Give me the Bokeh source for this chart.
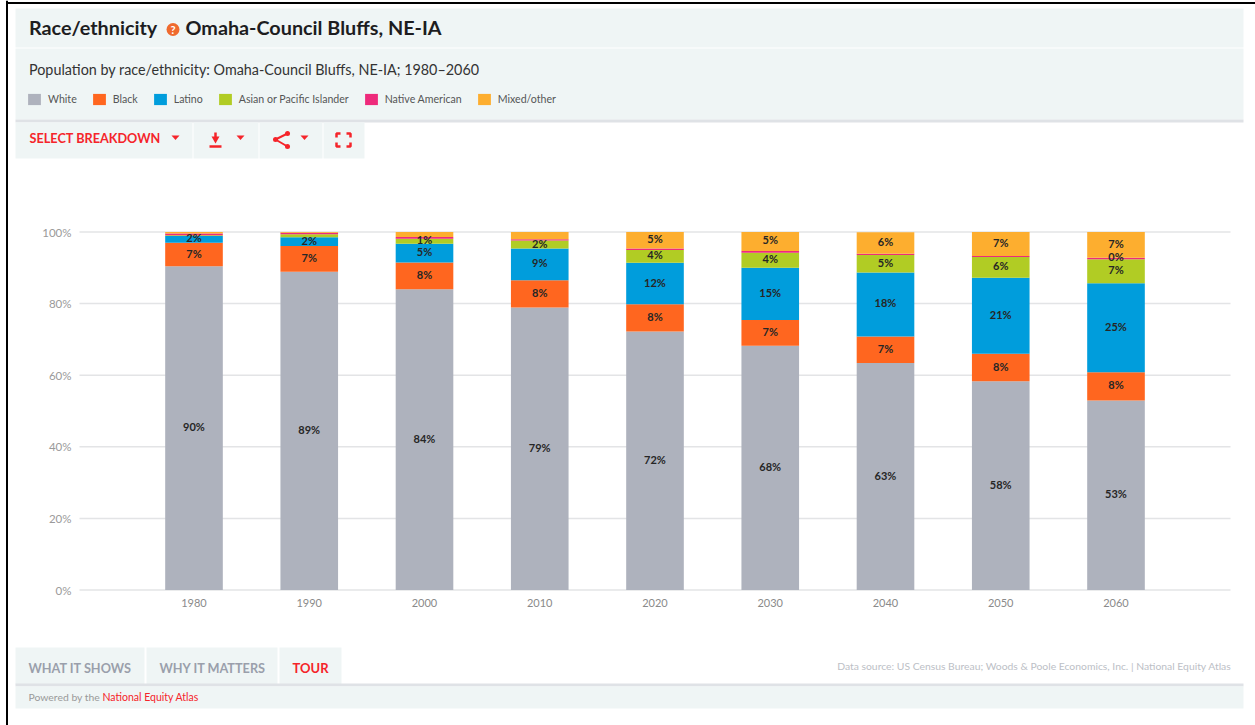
from bokeh.core.properties import value
from bokeh.embed import file_html
from bokeh.models import (ColumnDataSource, FixedTicker, Legend, LegendItem, LinearAxis,
                          PrintfTickFormatter, Range1d)
from bokeh.plotting import figure
from bokeh.resources import INLINE
import numpy as np

years = [1980, 1990, 2000, 2010, 2020, 2030, 2040, 2050, 2060]
white = [90.4, 88.9, 84.0, 78.9, 72.2, 68.2, 63.4, 58.3, 52.9]
black = [6.6, 7.2, 7.5, 7.6, 7.6, 7.2, 7.4, 7.7, 7.9]
latino = [1.9, 2.4, 5.2, 8.9, 11.6, 14.6, 17.9, 21.2, 24.9]
asian = [0.2, 0.9, 1.4, 2.2, 3.6, 4.2, 4.9, 5.8, 6.7]
native = [0.5, 0.4, 0.5, 0.4, 0.4, 0.5, 0.3, 0.3, 0.4]
mixed = [0.4, 0.2, 1.4, 2.0, 4.6, 5.3, 6.0, 6.7, 7.2]

series_names = ["White", "Black", "Latino", "Asian or Pacific Islander", "Native American", "Mixed/other"]
series_values = [white, black, latino, asian, native, mixed]
series_colors = ["#aeb2bd", "#ff661f", "#009ddc", "#b1cc24", "#ee2a7b", "#fdae2f"]
# Decades whose segment carries a value label, per series
labelled_years = [
    years,
    years,
    years,
    [2000, 2010, 2020, 2030, 2040, 2050, 2060],
    [2060],
    [2020, 2030, 2040, 2050, 2060],
]
y_ticks = [0, 20, 40, 60, 80, 100]

RED = "#f5242a"
PANEL = "#eff5f5"
SHADE = "#dfe2e6"
FONT = "Lato"

# The frame fills the page: data ranges place the plot area, a second pair of
# ranges in page pixels holds the surrounding panels.
PX_PER_YEAR = 11.525
PX_PER_PCT = 3.58
x0_px, y0_px = 193.5, 589.5
x_year = lambda px: 1980 + (px - x0_px) / PX_PER_YEAR
y_pct = lambda py: (y0_px - py) / PX_PER_PCT

p = figure(width=1255, height=725, output_backend="svg", toolbar_location=None,
           x_range=Range1d(x_year(0), x_year(1255)), y_range=Range1d(y_pct(725), y_pct(0)),
           x_axis_location=None, y_axis_location=None, min_border=0, outline_line_color=None)
p.grid.visible = False
p.extra_x_ranges["page_x"] = Range1d(0, 1255)
p.extra_y_ranges["page_y"] = Range1d(725, 0)
page = dict(x_range_name="page_x", y_range_name="page_y")


def panel(left, right, top, bottom, color):
    p.quad(left=left, right=right, top=top, bottom=bottom, fill_color=color,
           line_color=None, level="underlay", **page)


def label(x, y, text, size, color, weight="normal", align="left"):
    p.text(x=[x], y=[y], text=[text], text_font=value(FONT), text_font_size=f"{size}px",
           text_color=color, text_font_style=weight, text_align=align,
           text_baseline="middle", **page)


# Page edge rules
panel(5.5, 7.5, 0, 725, "#000000")
panel(5.5, 1255, 1.5, 3.5, "#000000")

# Header, button row and footer panels
panel(15, 1243, 8, 47, PANEL)
panel(15, 1243, 48, 119, PANEL)
panel(15, 1243, 119, 122, SHADE)
for left, right in [(15, 192), (193, 258), (259, 322), (323, 364)]:
    panel(left, right, 122, 158, PANEL)
for left, right in [(15, 144), (146, 277), (279, 341)]:
    panel(left, right, 647, 684, PANEL)
panel(15, 1243, 683, 686, SHADE)
panel(15, 1243, 686, 708, PANEL)

# Titles
label(28.5, 26, "Race/ethnicity", 19.8, "#1d1d1f", "bold")
label(185, 26, "Omaha-Council Bluffs, NE-IA", 19.8, "#1d1d1f", "bold")
p.scatter(x=[172.5], y=[29], size=13, marker="circle", fill_color="#ef6a2e", line_color=None, **page)
label(172.5, 29, "?", 11, "#ffffff", "bold", "center")
label(28.5, 68.5, "Population by race/ethnicity: Omaha-Council Bluffs, NE-IA; 1980–2060", 14.35, "#333333")

# Toolbar row: menu label, carets and icons
label(29, 137.5, "SELECT BREAKDOWN", 12.7, RED, "bold")
caret_x = [175, 240, 304]
p.patches(xs=[[c - 4, c + 4, c] for c in caret_x], ys=[[135, 135, 139.5]] * 3,
          fill_color=RED, line_color=None, **page)
p.patch(x=[211, 219, 215], y=[136, 136, 143], fill_color=RED, line_color=None, **page)
p.segment(x0=[215, 209], y0=[132, 146], x1=[215, 221], y1=[138, 146], line_color=RED, line_width=2.5, **page)
p.multi_line(xs=[[287, 275, 287]], ys=[[133, 139, 146]], line_color=RED, line_width=2, **page)
p.scatter(x=[287, 275, 287], y=[133, 139, 146], size=5, marker="circle", fill_color=RED, line_color=None, **page)
p.multi_line(
    xs=[[336, 336, 340], [346, 350, 350], [336, 336, 340], [346, 350, 350]],
    ys=[[137, 133, 133], [133, 133, 137], [142, 146, 146], [146, 146, 142]],
    line_color=RED, line_width=2.5, **page)

# Footer
label(28, 667.5, "WHAT IT SHOWS", 12.7, "#9a9fab", "bold")
label(159, 667.5, "WHY IT MATTERS", 12.7, "#9a9fab", "bold")
label(292, 667.5, "TOUR", 13, RED, "bold")
label(28, 696.5, "Powered by the", 10.4, "#9a9a9a")
label(102, 696.5, "National Equity Atlas", 10.5, RED)
label(1231, 665.5, "Data source: US Census Bureau; Woods & Poole Economics, Inc. | National Equity Atlas",
      10.37, "#bcc0c6", align="right")

# Gridlines stop short of the page edges
grid_left, grid_right = x_year(79), x_year(1230)
p.segment(x0=[grid_left] * len(y_ticks), x1=[grid_right] * len(y_ticks), y0=y_ticks, y1=y_ticks,
          line_color="#e3e4e6", line_width=1.5, level="underlay")

# Stacked bars
source = ColumnDataSource(dict(year=years, **dict(zip(series_names, series_values))))
bars = p.vbar_stack(series_names, x="year", width=5.0, color=series_colors, source=source, line_color=None)

# Value labels centred in each segment
tops = np.cumsum(np.array(series_values), axis=0)
lab_x, lab_y, lab_text = [], [], []
for s, shown in enumerate(labelled_years):
    for i, year in enumerate(years):
        if year in shown:
            lab_x.append(year)
            lab_y.append(tops[s][i] - series_values[s][i] / 2)
            lab_text.append(f"{round(series_values[s][i])}%")
p.text(x=lab_x, y=lab_y, text=lab_text, text_font=value(FONT), text_font_size="11px",
       text_font_style="bold", text_color="#262626", text_align="center", text_baseline="middle",
       y_offset=-1.5)

# Axes sit inside the full-page frame
y_axis = LinearAxis(ticker=FixedTicker(ticks=y_ticks), formatter=PrintfTickFormatter(format="%d%%"),
                    fixed_location=grid_left, axis_line_color=None, major_tick_line_color=None,
                    minor_tick_line_color=None, major_label_standoff=2,
                    major_label_text_font=FONT, major_label_text_font_size="11.5px",
                    major_label_text_color="#9a9a9a")
x_axis = LinearAxis(ticker=FixedTicker(ticks=years), formatter=PrintfTickFormatter(format="%d"),
                    fixed_location=0, axis_line_color=None, major_tick_line_color=None,
                    minor_tick_line_color=None, major_label_standoff=3,
                    major_label_text_font=FONT, major_label_text_font_size="11px",
                    major_label_text_color="#8a8a8a")
p.add_layout(y_axis, "left")
p.add_layout(x_axis, "below")

legend = Legend(items=[LegendItem(label=n, renderers=[r]) for n, r in zip(series_names, bars)],
                orientation="horizontal", location=(26, 619), margin=0, padding=0, spacing=14,
                glyph_width=16, glyph_height=14, label_height=14, label_standoff=6,
                label_text_font=FONT, label_text_font_size="10.6px", label_text_color="#555555",
                background_fill_alpha=0, border_line_color=None)
p.add_layout(legend, "center")

open("out.html", "w").write(file_html(p, INLINE))
